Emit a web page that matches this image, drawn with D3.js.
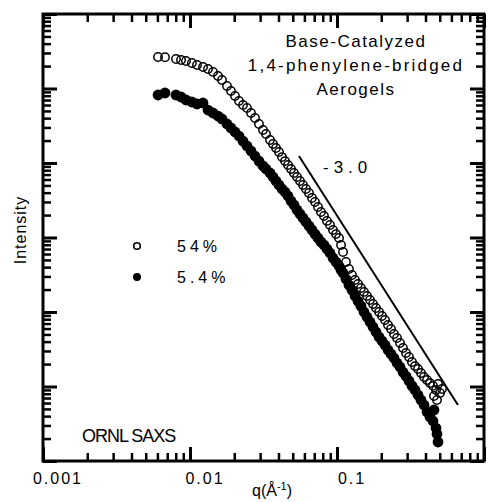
<!DOCTYPE html>
<html>
<head>
<meta charset="utf-8">
<script src="https://cdn.jsdelivr.net/npm/d3@7"></script>
<style>
  body { margin: 0; background: #fff; }
  svg text { font-family: "Liberation Sans", Arial, Helvetica, sans-serif; fill: #000; }
</style>
</head>
<body>
<div id="chart"></div>
<script>
// q values (1/A), shared by both samples
const qValues = [
  0.00606, 0.00676, 0.00803, 0.00869, 0.00939, 0.0103, 0.01116, 0.01226, 0.01326, 0.01434,
  0.0155, 0.0165, 0.01785, 0.0190, 0.02024, 0.02154, 0.02294, 0.02442, 0.0260, 0.02768,
  0.02947, 0.03138, 0.03289, 0.03502, 0.0367, 0.03846, 0.0403, 0.04226, 0.04429, 0.04642,
  0.04865, 0.05098, 0.05345, 0.05601, 0.0587, 0.06152, 0.06449, 0.06758, 0.07084, 0.07423,
  0.0778, 0.08155, 0.08548, 0.0896, 0.09393, 0.09844, 0.1032, 0.1065, 0.1099, 0.1151,
  0.1206, 0.1265, 0.1326, 0.139, 0.1456, 0.1526, 0.16, 0.1677, 0.1758, 0.1842,
  0.1931, 0.2024, 0.2121, 0.2223, 0.233, 0.2442, 0.256, 0.2683, 0.2812, 0.2947,
  0.3089, 0.3237, 0.3393, 0.3556, 0.3727, 0.3907, 0.4095, 0.4292, 0.4498, 0.457,
  0.4715, 0.479, 0.4866, 0.502, 0.5179
];

// 54% sample (open circles)
const intensity54 = [
  2.65e5, 2.63e5, 2.49e5, 2.41e5, 2.34e5, 2.20e5, 2.07e5, 1.94e5, 1.83e5, 1.67e5,
  1.47e5, 1.30e5, 1.08e5, 9.26e4, 7.93e4, 6.80e4, 6.00e4, 5.47e4, 4.69e4, 4.02e4,
  3.34e4, 2.77e4, 2.45e4, 2.04e4, 1.80e4, 1.59e4, 1.41e4, 1.20e4, 1.06e4, 9.40e3,
  8.31e3, 7.34e3, 6.49e3, 5.73e3, 5.07e3, 4.48e3, 3.96e3, 3.39e3, 3.00e3, 2.57e3,
  2.20e3, 1.94e3, 1.67e3, 1.47e3, 1.26e3, 1.11e3, 985, 793, 639, 469,
  378, 314, 269, 238, 210, 186, 164, 145, 128, 113,
  100, 88.4, 78.1, 66.9, 59.1, 50.7, 44.8, 38.4, 32.9, 28.2,
  24.9, 21.3, 18.8, 17.2, 15.2, 13.4, 12.2, 11.1, 10.2, 7.46,
  8.98, 6.59, 10.8, 8.18, 9.26
];

// 5.4% sample (filled circles)
const intensity5_4 = [
  8.18e4, 8.70e4, 8.18e4, 7.69e4, 7.01e4, 6.59e4, 6.19e4, 6.39e4, 5.14e4, 4.69e4,
  4.27e4, 3.90e4, 3.34e4, 2.95e4, 2.61e4, 2.30e4, 1.97e4, 1.69e4, 1.45e4, 1.24e4,
  1.06e4, 9.11e3, 8.31e3, 7.34e3, 6.49e3, 5.73e3, 5.07e3, 4.48e3, 4.08e3, 3.61e3,
  3.09e3, 2.73e3, 2.34e3, 2.07e3, 1.83e3, 1.62e3, 1.43e3, 1.26e3, 1.11e3, 985,
  870, 793, 701, 619, 531, 469, 414, 366, 334, 277,
  230, 197, 164, 140, 120, 100, 85.7, 73.4, 62.9, 53.9,
  46.2, 40.8, 36.1, 30.9, 27.3, 24.1, 20.7, 18.3, 15.6, 13.8,
  11.9, 10.2, 8.98, 7.69, 6.59, 5.65, 4.55, 3.90, 3.44, 4.84,
  2.77, 2.30, 1.80, null, null
];

// slope guide line, power law q^-3
const slopeLine = [[0.0551, 1.24e4], [0.665, 5.65]];
const slopeLabel = "-3.0";

const xTickLabels = [0.001, 0.01, 0.1];
const titleLines = ["Base-Catalyzed", "1,4-phenylene-bridged", "Aerogels"];
const legendLabels = ["54%", "5.4%"];

const width = 490, height = 502;
const frame = { left: 43, right: 484, top: 14, bottom: 461 };

const svg = d3.select("#chart").append("svg")
    .attr("width", width)
    .attr("height", height);

const x = d3.scaleLog().domain([0.001, 1]).range([frame.left, frame.right]);
const y = d3.scaleLog().domain([1, 1e6]).range([frame.bottom, frame.top]);

const isMajor = v => Math.abs(Math.log10(v) - Math.round(Math.log10(v))) < 1e-6;
const xMinor = x.ticks().filter(v => !isMajor(v));
const xMajor = x.ticks().filter(isMajor);
const yMinor = y.ticks().filter(v => !isMajor(v));
const yMajor = y.ticks().filter(isMajor);

// ticks on all four sides, pointing inward
function drawAxis(axisFn, scale, values, size, strokeW, transform) {
    const g = svg.append("g")
        .attr("transform", transform)
        .call(axisFn(scale).tickValues(values).tickSize(-size).tickFormat(""));
    g.select(".domain").remove();
    g.selectAll(".tick line").attr("stroke", "#000").attr("stroke-width", strokeW);
}
drawAxis(d3.axisBottom, x, xMinor, 8, 2.5, `translate(0,${frame.bottom})`);
drawAxis(d3.axisBottom, x, xMajor, 14, 3, `translate(0,${frame.bottom})`);
drawAxis(d3.axisTop, x, xMinor, 8, 2.5, `translate(0,${frame.top})`);
drawAxis(d3.axisTop, x, xMajor, 14, 3, `translate(0,${frame.top})`);
drawAxis(d3.axisLeft, y, yMinor, 8, 2.5, `translate(${frame.left},0)`);
drawAxis(d3.axisLeft, y, yMajor, 14, 3, `translate(${frame.left},0)`);
drawAxis(d3.axisRight, y, yMinor, 8, 2.5, `translate(${frame.right},0)`);
drawAxis(d3.axisRight, y, yMajor, 14, 3, `translate(${frame.right},0)`);

svg.append("rect")
    .attr("x", frame.left).attr("y", frame.top)
    .attr("width", frame.right - frame.left).attr("height", frame.bottom - frame.top)
    .attr("fill", "none").attr("stroke", "#000").attr("stroke-width", 3);

// x tick labels
svg.selectAll(".xlabel")
    .data(xTickLabels)
    .join("text")
    .attr("class", "xlabel")
    .attr("x", d => x(d) + 15)
    .attr("y", frame.bottom + 23)
    .attr("text-anchor", "middle")
    .style("font-size", "16px")
    .style("letter-spacing", "2px")
    .text(d => String(d));

// axis titles
const xTitle = svg.append("text")
    .attr("x", 272).attr("y", 496)
    .attr("text-anchor", "middle")
    .style("font-size", "16px");
xTitle.append("tspan").text("q(Å");
xTitle.append("tspan").attr("dy", -6).style("font-size", "11px").text("-1");
xTitle.append("tspan").attr("dy", 6).text(")");

svg.append("text")
    .attr("transform", "translate(26,230) rotate(-90)")
    .attr("text-anchor", "middle")
    .style("font-size", "16px")
    .style("letter-spacing", "1px")
    .text("Intensity");

// data
const points54 = qValues.map((q, i) => ({ q, v: intensity54[i] })).filter(d => d.v != null);
const points5 = qValues.map((q, i) => ({ q, v: intensity5_4[i] })).filter(d => d.v != null);

svg.append("g").selectAll("circle")
    .data(points5)
    .join("circle")
    .attr("cx", d => x(d.q))
    .attr("cy", d => y(d.v))
    .attr("r", 5.4)
    .attr("fill", "#000");

svg.append("g").selectAll("circle")
    .data(points54)
    .join("circle")
    .attr("cx", d => x(d.q))
    .attr("cy", d => y(d.v))
    .attr("r", 4.2)
    .attr("fill", "none")
    .attr("stroke", "#000")
    .attr("stroke-width", 1.5);

// slope guide
svg.append("path")
    .attr("d", d3.line().x(d => x(d[0])).y(d => y(d[1]))(slopeLine))
    .attr("stroke", "#000")
    .attr("stroke-width", 2)
    .attr("fill", "none");

svg.append("text")
    .attr("x", 323).attr("y", 173)
    .style("font-size", "17px")
    .style("letter-spacing", "5px")
    .text(slopeLabel);

// title block
const titleSpacing = [1.5, 2.2, 1.5];
svg.selectAll(".title")
    .data(titleLines)
    .join("text")
    .attr("class", "title")
    .attr("x", 356)
    .attr("y", (d, i) => 47 + i * 24)
    .attr("text-anchor", "middle")
    .style("font-size", "17px")
    .style("letter-spacing", (d, i) => titleSpacing[i] + "px")
    .text(d => d);

// legend
const legend = svg.append("g");
legendLabels.forEach((label, i) => {
    const cy = 246 + i * 31;
    legend.append("circle")
        .attr("cx", 137).attr("cy", cy)
        .attr("r", i === 0 ? 3.3 : 4)
        .attr("fill", i === 0 ? "none" : "#000")
        .attr("stroke", "#000")
        .attr("stroke-width", i === 0 ? 1.6 : 0);
    legend.append("text")
        .attr("x", 177).attr("y", cy + 6)
        .style("font-size", "16px")
        .style("letter-spacing", "4px")
        .text(label);
});

svg.append("text")
    .attr("x", 82).attr("y", 442)
    .style("font-size", "18px")
    .style("letter-spacing", "-1px")
    .text("ORNL SAXS");
</script>
</body>
</html>
